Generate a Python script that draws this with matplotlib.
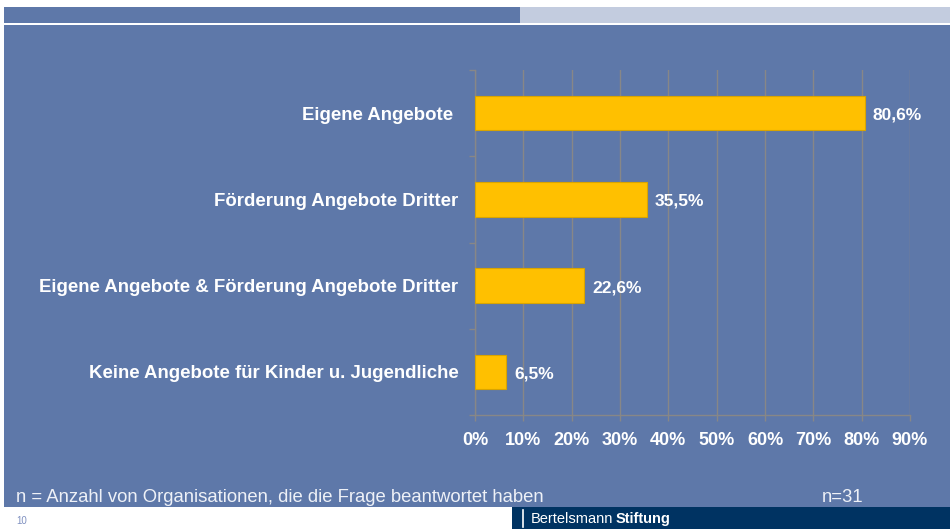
import matplotlib
matplotlib.use("Agg")
import matplotlib.pyplot as plt
from matplotlib.patches import Rectangle

# Chart data
categories = [
    "Eigene Angebote ",
    "Förderung Angebote Dritter",
    "Eigene Angebote & Förderung Angebote Dritter",
    "Keine Angebote für Kinder u. Jugendliche",
]
values = [80.6, 35.5, 22.6, 6.5]
value_labels = ["80,6%", "35,5%", "22,6%", "6,5%"]
xticks = [0, 10, 20, 30, 40, 50, 60, 70, 80, 90]
xtick_labels = [f"{t}%" for t in xticks]
footnote = "n = Anzahl von Organisationen, die die Frage beantwortet haben"
n_text = "n=31"
page_no = "10"

W, H = 953, 529
PANEL = "#5E78A9"
LIGHT = "#C3CCDF"
NAVY = "#003362"
BAR = "#FFC000"
GRID = "#878787"

plt.rcParams["font.family"] = ["Liberation Sans", "DejaVu Sans"]

fig = plt.figure(figsize=(W / 100, H / 100), dpi=100)
fig.patch.set_facecolor("white")


def px_rect(x0, y0, x1, y1, color):
    # rectangle in pixel coords (top-left origin), drawn behind the axes
    fig.patches.append(Rectangle((x0 / W, 1 - y1 / H), (x1 - x0) / W, (y1 - y0) / H,
                                 transform=fig.transFigure, facecolor=color,
                                 edgecolor="none", zorder=-5))


px_rect(4, 7, 520, 23, PANEL)
px_rect(520, 7, 950, 23, LIGHT)
px_rect(4, 25, 950, 507, PANEL)
px_rect(512, 507, 950, 529, NAVY)

ax = fig.add_axes([475 / W, 1 - 415 / H, 435 / W, 345 / H])
ax.set_facecolor("none")
ax.set_zorder(2)

pos = list(range(len(categories)))
ax.barh(pos, values, height=0.4, color=BAR, edgecolor="#D9A400", linewidth=0.8, zorder=3)
ax.set_ylim(len(categories) - 0.5, -0.5)
ax.set_xlim(0, 90)

ax.set_xticks(xticks)
ax.set_xticklabels(xtick_labels, color="white", fontsize=13, fontweight="bold")
ax.set_yticks(pos)
ax.set_yticklabels(categories, color="white", fontsize=13.4, fontweight="bold")
ax.set_yticks([p - 0.5 for p in pos] + [len(pos) - 0.5], minor=True)
ax.tick_params(axis="y", which="major", length=0, pad=12)
ax.tick_params(axis="y", which="minor", length=4, color=GRID, width=1)
ax.tick_params(axis="x", which="major", length=4, color=GRID, width=1, pad=8)

ax.grid(axis="x", color=GRID, linewidth=1, zorder=1)
for s in ["top", "right"]:
    ax.spines[s].set_visible(False)
for s in ["left", "bottom"]:
    ax.spines[s].set_color(GRID)
    ax.spines[s].set_linewidth(1)

for p, v, lab in zip(pos, values, value_labels):
    ax.annotate(lab, (v, p), xytext=(6, -1.5), textcoords="offset points",
                va="center", ha="left", color="white", fontsize=12.5, fontweight="bold")

fig.text(16 / W, 1 - 497 / H, footnote, color="#EEF1F7", fontsize=13.3, va="center", ha="left")
fig.text(822 / W, 1 - 497 / H, n_text, color="#EEF1F7", fontsize=13.3, va="center", ha="left")
fig.text(16 / W, 1 - 521 / H, page_no, color="#7F90C0", fontsize=7, va="center", ha="left")

# foundation logo strip
fig.lines.append(plt.Line2D([523 / W, 523 / W], [1 - 527 / H, 1 - 510 / H],
                            transform=fig.transFigure, color="white", linewidth=1.2))
t = fig.text(531 / W, 1 - 519 / H, "Bertelsmann", color="white", fontsize=10.5,
             va="center", ha="left")
fig.canvas.draw()
bb = t.get_window_extent()
fig.text((bb.x1 + 2) / W, 1 - 519 / H, "Stiftung", color="white", fontsize=10.5,
         fontweight="bold", va="center", ha="left")

fig.savefig("out.png", dpi=100, facecolor=fig.get_facecolor())
